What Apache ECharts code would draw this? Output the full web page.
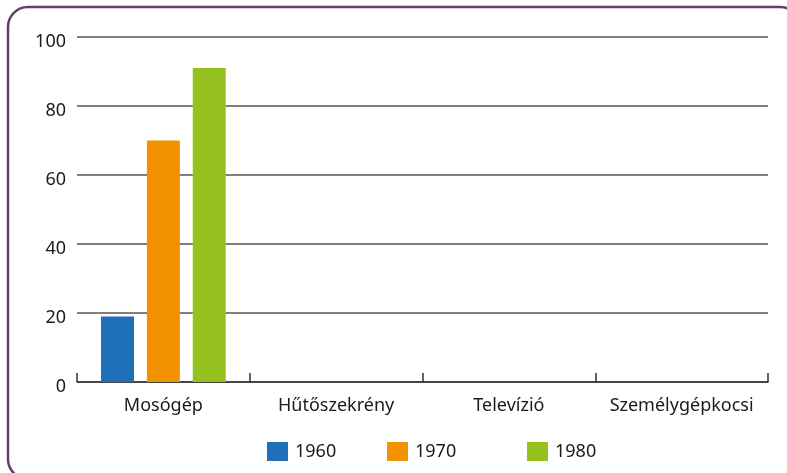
<!DOCTYPE html>
<html>
<head>
<meta charset="utf-8">
<script src="https://cdn.jsdelivr.net/npm/echarts@6/dist/echarts.min.js"></script>
<style>
html,body{margin:0;padding:0;background:#fff;}
#chart{width:787px;height:473px;}
</style>
</head>
<body>
<div id="chart"></div>
<script>
const categories = ['Mosógép', 'Hűtőszekrény', 'Televízió', 'Személygépkocsi'];
const seriesNames = ['1960', '1970', '1980'];
const values1960 = [19, null, null, null];
const values1970 = [70, null, null, null];
const values1980 = [91, null, null, null];
const colors = ['#1f6fba', '#f39200', '#95c11f'];

const FONT = 'Noto Sans';
const chart = echarts.init(document.getElementById('chart'));
const seriesData = [values1960, values1970, values1980];
const legendLefts = [262, 382, 522];

chart.setOption({
  animation: false,
  textStyle: { fontFamily: FONT },
  graphic: [{
    type: 'rect',
    shape: { x: 8, y: 7, width: 792, height: 472, r: 20 },
    style: { fill: null, stroke: '#6d3a6b', lineWidth: 2.5 },
    z: 100
  }],
  legend: seriesNames.map((n, i) => ({
    data: [n],
    left: legendLefts[i],
    top: 437,
    itemWidth: 21,
    itemHeight: 19,
    itemGap: 0,
    icon: 'rect',
    textStyle: { fontFamily: FONT, fontSize: 18, color: '#1a1a1a', padding: [0, 0, 0, 2] }
  })),
  grid: { left: 77, right: 19, top: 37, bottom: 91, containLabel: false },
  xAxis: {
    type: 'category',
    data: categories,
    axisLine: { show: true, lineStyle: { color: '#333', width: 1.5 } },
    axisTick: { show: true, inside: true, length: 9, interval: 0, alignWithLabel: false, lineStyle: { color: '#333', width: 1.5 } },
    axisLabel: { fontFamily: FONT, fontSize: 18, color: '#1a1a1a', margin: 15, interval: 0 },
    splitLine: { show: false }
  },
  yAxis: {
    type: 'value',
    min: 0, max: 100, interval: 20,
    axisLine: { show: false },
    axisTick: { show: false },
    axisLabel: {
      fontFamily: FONT, fontSize: 18, color: '#1a1a1a', margin: 11,
      formatter: '{a|{value}}',
      rich: { a: { fontFamily: FONT, fontSize: 18, color: '#1a1a1a', padding: [10, 0, 0, 0] } }
    },
    splitLine: { show: true, lineStyle: { color: '#555', width: 1.5 } }
  },
  series: seriesNames.map((n, i) => ({
    name: n,
    type: 'bar',
    data: seriesData[i],
    itemStyle: { color: colors[i] },
    barWidth: 33,
    barGap: '39%',
    barCategoryGap: '28%'
  }))
});
</script>
</body>
</html>
